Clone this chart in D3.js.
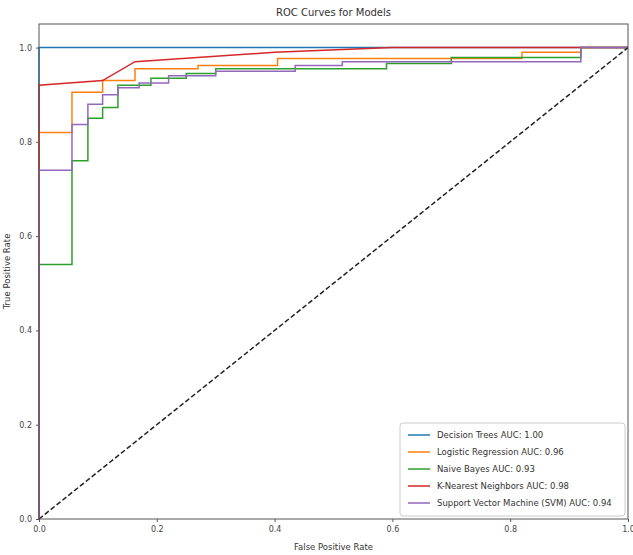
<!DOCTYPE html>
<html>
<head>
<meta charset="utf-8">
<script src="https://d3js.org/d3.v7.min.js"></script>
<style>
  body { margin: 0; background: #fff; }
  text { font-family: "DejaVu Sans", sans-serif; fill: #333; }
</style>
</head>
<body>
<script>
// model names + AUC labels
var models = ["Decision Trees", "Logistic Regression", "Naive Bayes", "K-Nearest Neighbors", "Support Vector Machine (SVM)"];
var aucs = ["1.00", "0.96", "0.93", "0.98", "0.94"];
var colors = ["#1f77b4", "#ff7f0e", "#2ca02c", "#d62728", "#9467bd"];

// roc points
var dtFpr = [0, 0, 1];
var dtTpr = [0, 1, 1];
var lrFpr = [0, 0, 0.056, 0.056, 0.108, 0.108, 0.163, 0.163, 0.27, 0.27, 0.405, 0.405, 0.82, 0.82, 0.92, 0.92, 1];
var lrTpr = [0, 0.82, 0.82, 0.905, 0.905, 0.93, 0.93, 0.955, 0.955, 0.962, 0.962, 0.977, 0.977, 0.99, 0.99, 1, 1];
var nbFpr = [0, 0, 0.056, 0.056, 0.083, 0.083, 0.108, 0.108, 0.134, 0.134, 0.19, 0.19, 0.25, 0.25, 0.3, 0.3, 0.59, 0.59, 0.7, 0.7, 0.92, 0.92, 1];
var nbTpr = [0, 0.54, 0.54, 0.76, 0.76, 0.85, 0.85, 0.873, 0.873, 0.92, 0.92, 0.935, 0.935, 0.945, 0.945, 0.955, 0.955, 0.966, 0.966, 0.979, 0.979, 1, 1];
var knnFpr = [0, 0, 0.108, 0.163, 0.4, 0.6, 1];
var knnTpr = [0, 0.92, 0.93, 0.97, 0.99, 1, 1];
var svmFpr = [0, 0, 0.056, 0.056, 0.083, 0.083, 0.108, 0.108, 0.134, 0.134, 0.17, 0.17, 0.22, 0.22, 0.3, 0.3, 0.435, 0.435, 0.515, 0.515, 0.92, 0.92, 1];
var svmTpr = [0, 0.74, 0.74, 0.837, 0.837, 0.88, 0.88, 0.9, 0.9, 0.915, 0.915, 0.925, 0.925, 0.94, 0.94, 0.95, 0.95, 0.962, 0.962, 0.97, 0.97, 1, 1];

var ticks = [0, 0.2, 0.4, 0.6, 0.8, 1.0];

var curves = [[dtFpr, dtTpr], [lrFpr, lrTpr], [nbFpr, nbTpr], [knnFpr, knnTpr], [svmFpr, svmTpr]];

var W = 633, H = 555;
var margin = {top: 24, right: 5, bottom: 36, left: 39};
var w = W - margin.left - margin.right,
    h = H - margin.top - margin.bottom;

var svg = d3.select("body").append("svg")
    .attr("width", W)
    .attr("height", H);

var g = svg.append("g")
    .attr("transform", "translate(" + margin.left + "," + margin.top + ")");

var x = d3.scaleLinear().domain([0, 1]).range([0, w]);
var y = d3.scaleLinear().domain([0, 1.05]).range([h, 0]);

var xAxis = g.append("g")
    .attr("transform", "translate(0," + h + ")")
    .call(d3.axisBottom(x).tickValues(ticks).tickFormat(d3.format(".1f")).tickSize(3).tickPadding(4));
var yAxis = g.append("g")
    .call(d3.axisLeft(y).tickValues(ticks).tickFormat(d3.format(".1f")).tickSize(3).tickPadding(4));

[xAxis, yAxis].forEach(function (a) {
  a.select(".domain").remove();
  a.selectAll("line").attr("stroke", "#555");
  a.selectAll("text").style("font-size", "8px").style("fill", "#444").attr("font-family", null);
});

var line = d3.line()
    .x(function (d) { return x(d[0]); })
    .y(function (d) { return y(d[1]); });

curves.forEach(function (c, i) {
  var pts = c[0].map(function (f, j) { return [f, c[1][j]]; });
  g.append("path")
    .datum(pts)
    .attr("fill", "none")
    .attr("stroke", colors[i])
    .attr("stroke-width", 1.5)
    .attr("d", line);
});

// chance line
g.append("path")
  .datum([[0, 0], [1, 1]])
  .attr("fill", "none")
  .attr("stroke", "#222")
  .attr("stroke-width", 1.5)
  .attr("stroke-dasharray", "5,2.5")
  .attr("d", line);

// frame
g.append("rect")
  .attr("width", w).attr("height", h)
  .attr("fill", "none")
  .attr("stroke", "#555")
  .attr("stroke-width", 1);

svg.append("text")
  .attr("x", margin.left + w / 2).attr("y", 16)
  .attr("text-anchor", "middle")
  .style("font-size", "10px")
  .text("ROC Curves for Models");

svg.append("text")
  .attr("x", margin.left + w / 2).attr("y", 550)
  .attr("text-anchor", "middle")
  .style("font-size", "8.5px")
  .text("False Positive Rate");

svg.append("text")
  .attr("transform", "translate(10," + (margin.top + h / 2) + ") rotate(-90)")
  .attr("text-anchor", "middle")
  .style("font-size", "8.5px")
  .text("True Positive Rate");

// legend
var lg = g.append("g").attr("transform", "translate(" + (w - 228) + "," + (h - 96) + ")");
lg.append("rect")
  .attr("width", 225).attr("height", 93)
  .attr("rx", 3)
  .attr("fill", "#fff").attr("fill-opacity", 0.8)
  .attr("stroke", "#ccc");

models.forEach(function (m, i) {
  var yy = 12 + i * 17;
  lg.append("line")
    .attr("x1", 8).attr("x2", 30)
    .attr("y1", yy).attr("y2", yy)
    .attr("stroke", colors[i]).attr("stroke-width", 1.5);
  lg.append("text")
    .attr("x", 37).attr("y", yy + 3)
    .style("font-size", "8.5px")
    .text(m + " AUC: " + aucs[i]);
});
</script>
</body>
</html>
